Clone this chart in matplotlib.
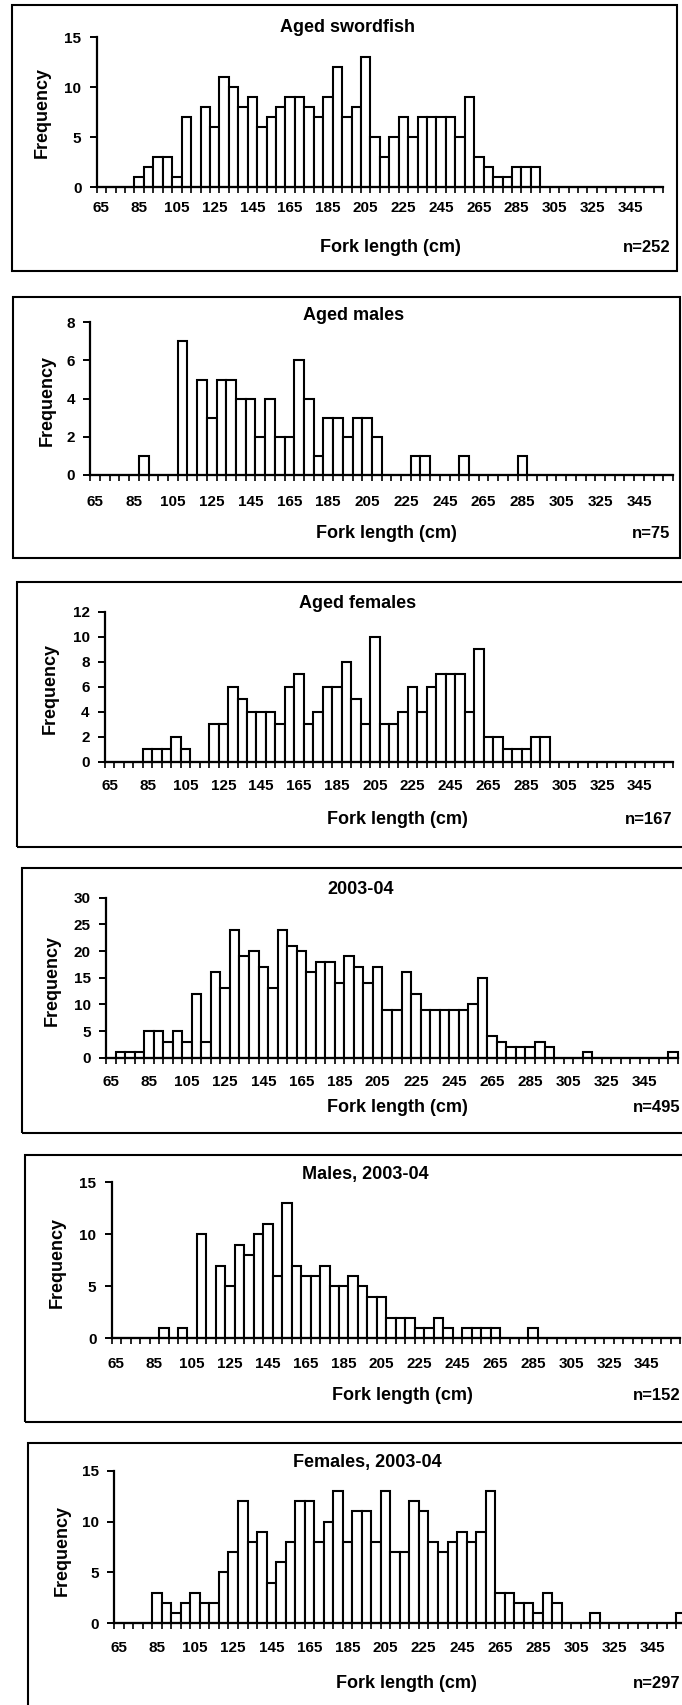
import matplotlib
matplotlib.use("Agg")
import matplotlib.pyplot as plt
from matplotlib.patches import Rectangle

# Fork-length classes (cm), 5 cm bins; labelled every fourth class
fork_length = list(range(65, 365, 5))
label_lengths = list(range(65, 346, 20))

# Frequencies per class, 65 ... 360 cm
aged_all = [0, 0, 0, 0, 1, 2, 3, 3, 1, 7, 0, 8, 6, 11, 10, 8, 9, 6, 7, 8,
            9, 9, 8, 7, 9, 12, 7, 8, 13, 5, 3, 5, 7, 5, 7, 7, 7, 7, 5, 9,
            3, 2, 1, 1, 2, 2, 2, 0, 0, 0, 0, 0, 0, 0, 0, 0, 0, 0, 0, 0]
aged_males = [0, 0, 0, 0, 0, 1, 0, 0, 0, 7, 0, 5, 3, 5, 5, 4, 4, 2, 4, 2,
              2, 6, 4, 1, 3, 3, 2, 3, 3, 2, 0, 0, 0, 1, 1, 0, 0, 0, 1, 0,
              0, 0, 0, 0, 1, 0, 0, 0, 0, 0, 0, 0, 0, 0, 0, 0, 0, 0, 0, 0]
aged_females = [0, 0, 0, 0, 1, 1, 1, 2, 1, 0, 0, 3, 3, 6, 5, 4, 4, 4, 3, 6,
                7, 3, 4, 6, 6, 8, 5, 3, 10, 3, 3, 4, 6, 4, 6, 7, 7, 7, 4, 9,
                2, 2, 1, 1, 1, 2, 2, 0, 0, 0, 0, 0, 0, 0, 0, 0, 0, 0, 0, 0]
all_0304 = [0, 1, 1, 1, 5, 5, 3, 5, 3, 12, 3, 16, 13, 24, 19, 20, 17, 13, 24, 21,
            20, 16, 18, 18, 14, 19, 17, 14, 17, 9, 9, 16, 12, 9, 9, 9, 9, 9, 10, 15,
            4, 3, 2, 2, 2, 3, 2, 0, 0, 0, 1, 0, 0, 0, 0, 0, 0, 0, 0, 1]
males_0304 = [0, 0, 0, 0, 0, 1, 0, 1, 0, 10, 0, 7, 5, 9, 8, 10, 11, 6, 13, 7,
              6, 6, 7, 5, 5, 6, 5, 4, 4, 2, 2, 2, 1, 1, 2, 1, 0, 1, 1, 1,
              1, 0, 0, 0, 1, 0, 0, 0, 0, 0, 0, 0, 0, 0, 0, 0, 0, 0, 0, 0]
females_0304 = [0, 0, 0, 0, 3, 2, 1, 2, 3, 2, 2, 5, 7, 12, 8, 9, 4, 6, 8, 12,
                12, 8, 10, 13, 8, 11, 11, 8, 13, 7, 7, 12, 11, 8, 7, 8, 9, 8, 9, 13,
                3, 3, 2, 2, 1, 3, 2, 0, 0, 0, 1, 0, 0, 0, 0, 0, 0, 0, 0, 1]

titles = ["Aged swordfish", "Aged males", "Aged females",
          "2003-04", "Males, 2003-04", "Females, 2003-04"]
sample_sizes = ["n=252", "n=75", "n=167", "n=495", "n=152", "n=297"]
y_max = [15, 8, 12, 30, 15, 15]
y_step = [5, 2, 2, 5, 5, 5]
series = [aged_all, aged_males, aged_females, all_0304, males_0304, females_0304]

W, H = 682, 1705
plt.rcParams["font.family"] = ["Liberation Sans", "DejaVu Sans"]
plt.rcParams["font.weight"] = "bold"

fig = plt.figure(figsize=(W / 100, H / 100), dpi=100)
fig.patch.set_facecolor("white")


def fx(x):
    return x / W


def fy(y):
    return 1 - y / H


# Pixel layout of each panel: plot area, frame and text anchors
layout = [
    dict(left=96.7, right=663, top=37.3, base=187.3, frame=(12, 5, 677, 271),
         title=(348, 28), xlab=(390, 248), n=(670, 248), ylab=(42, 113), tick_y=210),
    dict(left=90.3, right=673, top=322.3, base=475, frame=(13, 297, 680, 558),
         title=(354, 315), xlab=(386, 533), n=(670, 533), ylab=(47, 400), tick_y=503),
    dict(left=105, right=673, top=611.7, base=761.7, frame=(17, 582, 686, 847),
         title=(358, 603), xlab=(397, 820), n=(672, 820), ylab=(50, 688), tick_y=788),
    dict(left=106, right=678, top=897.7, base=1057.7, frame=(22, 868, 690, 1133),
         title=(361, 890), xlab=(397, 1107), n=(680, 1107), ylab=(52, 980), tick_y=1084),
    dict(left=111.7, right=680, top=1182.3, base=1338.3, frame=(25, 1155, 692, 1422),
         title=(365, 1175), xlab=(402, 1395), n=(680, 1395), ylab=(57, 1262), tick_y=1366),
    dict(left=114.2, right=685.6, top=1470.7, base=1623.3, frame=(28, 1443, 694, 1712),
         title=(367, 1463), xlab=(406, 1683), n=(680, 1683), ylab=(62, 1551), tick_y=1650),
]

TICK_FS = 11
LABEL_FS = 13
EDGE = 1.5

for counts, title, nlab, ymax, ystep, g in zip(series, titles, sample_sizes,
                                              y_max, y_step, layout):
    # outer frame
    fl, ft, fr, fb = g["frame"]
    fig.patches.append(Rectangle((fx(fl), fy(fb)), fx(fr) - fx(fl), fy(ft) - fy(fb),
                                 transform=fig.transFigure, fill=False,
                                 edgecolor="black", linewidth=1.5))

    ax = fig.add_axes([fx(g["left"]), fy(g["base"]),
                       fx(g["right"]) - fx(g["left"]), fy(g["top"]) - fy(g["base"])])
    ax.bar(fork_length, counts, width=5, color="white", edgecolor="black",
           linewidth=EDGE, align="center", clip_on=False)
    ax.set_xlim(62.5, 362.5)
    ax.set_ylim(0, ymax)
    ax.patch.set_alpha(0)
    for s in ("top", "right"):
        ax.spines[s].set_visible(False)
    for s in ("left", "bottom"):
        ax.spines[s].set_linewidth(1.6)

    ax.set_yticks(list(range(0, ymax + 1, ystep)))
    ax.tick_params(axis="y", length=5, width=1.4, direction="out",
                   labelsize=TICK_FS, pad=6)

    gap_px = g["tick_y"] - g["base"] - 8.5
    ax.set_xticks(label_lengths)
    ax.set_xticklabels([str(v) for v in label_lengths])
    ax.set_xticks([62.5 + 5 * k for k in range(61)], minor=True)
    ax.tick_params(axis="x", which="major", length=0, labelsize=TICK_FS,
                   pad=gap_px * 0.72)
    ax.tick_params(axis="x", which="minor", length=4, width=1.2, direction="out")
    for lab in ax.get_xticklabels() + ax.get_yticklabels():
        lab.set_fontweight("bold")

    fig.text(fx(g["title"][0]), fy(g["title"][1]), title, ha="center", va="center",
             fontsize=LABEL_FS, fontweight="bold")
    fig.text(fx(g["xlab"][0]), fy(g["xlab"][1]), "Fork length (cm)", ha="center",
             va="center", fontsize=LABEL_FS, fontweight="bold")
    fig.text(fx(g["n"][0]), fy(g["n"][1]), nlab, ha="right", va="center",
             fontsize=12, fontweight="bold")
    fig.text(fx(g["ylab"][0]), fy(g["ylab"][1]), "Frequency", ha="center",
             va="center", rotation=90, fontsize=LABEL_FS, fontweight="bold")

fig.savefig("out.png", dpi=100, facecolor="white")
